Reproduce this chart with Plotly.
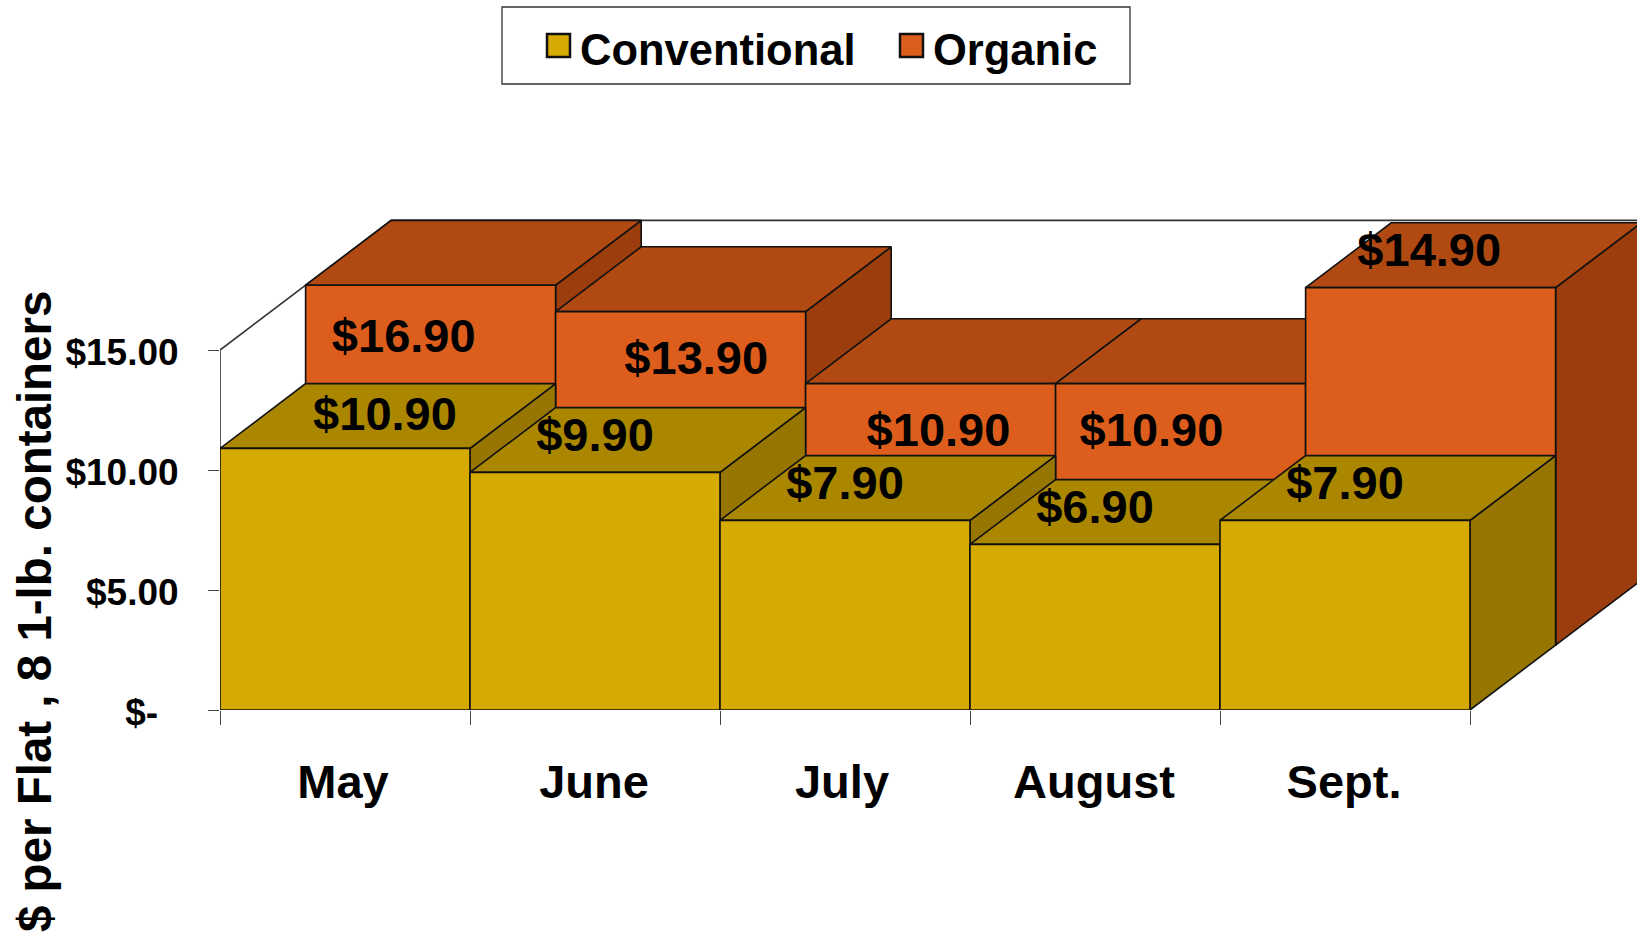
import plotly.graph_objects as go

months = ["May", "June", "July", "August", "Sept."]
conventional = [10.90, 9.90, 7.90, 6.90, 7.90]
organic = [16.90, 13.90, 10.90, 10.90, 14.90]
y_ticks = [0, 5, 10, 15]
y_tick_labels = ["$-\u00a0\u00a0", "$5.00", "$10.00", "$15.00"]

# pixel layout of the page
W, H = 1637, 932
LEFT, BASE = 220, 710
PX_X, PX_Y = 250, 24
X_MAX, Y_MAX = (W - LEFT) / PX_X, BASE / PX_Y

# one step of depth in the fake 3D, in data units
DX, DY = 0.3424, 2.7
AXIS_TOP = y_ticks[-1]

FONT = "Liberation Sans"
COLORS = {
    "conventional": ("#D6AA00", "#AB8700", "#967500"),
    "organic": ("#DD5E1C", "#B04A12", "#9B3D0D"),
}


def paper_x(px):
    return (px - LEFT) / (W - LEFT)


def paper_y(py):
    return (BASE - py) / BASE


def face(fig, xs, ys, color):
    fig.add_trace(go.Scatter(
        x=xs + xs[:1], y=ys + ys[:1], mode="lines", fill="toself", fillcolor=color,
        line=dict(color="#111111", width=1.6), hoverinfo="skip", showlegend=False, cliponaxis=False,
    ))


def add_series(fig, values, offset, colors):
    front, top, side = colors
    ox, oy = DX * offset, DY * offset
    for i, v in enumerate(values):
        h = min(v, AXIS_TOP)  # the axis stops at 15, May organic is cut off
        l, r = i + ox, i + 1 + ox
        face(fig, [r, r + DX, r + DX, r], [oy, oy + DY, h + oy + DY, h + oy], side)
        face(fig, [l, l + DX, r + DX, r], [h + oy, h + oy + DY, h + oy + DY, h + oy], top)
        face(fig, [l, r, r, l], [oy, oy, h + oy, h + oy], front)


fig = go.Figure()

# left and back wall edges
fig.add_trace(go.Scatter(
    x=[0, 0, 2 * DX, X_MAX], y=[0, AXIS_TOP, AXIS_TOP + 2 * DY, AXIS_TOP + 2 * DY], mode="lines",
    line=dict(color="#333333", width=1.6), hoverinfo="skip", showlegend=False, cliponaxis=False,
))

add_series(fig, organic, 1, COLORS["organic"])
add_series(fig, conventional, 0, COLORS["conventional"])

# data labels were moved by hand in the original, so they sit off the bars a bit
conv_label_x = [i + 0.5 + s for i, s in enumerate([0.16, 0, 0, 0, 0])]
conv_label_y = [v + s for v, s in zip(conventional, [1.27, 1.4, 1.4, 1.4, 1.4])]
org_label_x = [i + 0.5 + s for i, s in enumerate([0.235, 0.405, 0.374, 0.226, 0.337])]
org_label_y = [v + s for v, s in zip(organic, [-1.5, 0.58, 0.58, 0.58, 4.1])]
for xs, ys, vals in [(org_label_x, org_label_y, organic), (conv_label_x, conv_label_y, conventional)]:
    fig.add_trace(go.Scatter(
        x=xs, y=ys, mode="text", text=[f"${v:.2f}" for v in vals], textposition="middle center",
        textfont=dict(family=FONT, size=47, color="#000000", weight="bold"),
        hoverinfo="skip", showlegend=False, cliponaxis=False,
    ))

# legend box, the built-in swatches can't get this large
shapes = [dict(
    type="rect", xref="paper", yref="paper", x0=paper_x(502), x1=paper_x(1130), y0=paper_y(84), y1=paper_y(7),
    line=dict(color="#333333", width=1.3), fillcolor="#FFFFFF",
)]
annotations = []
for name, sx, tx, key in [("Conventional", 547, 578, "conventional"), ("Organic", 900, 931, "organic")]:
    shapes.append(dict(
        type="rect", xref="paper", yref="paper", x0=paper_x(sx), x1=paper_x(sx + 23), y0=paper_y(57), y1=paper_y(34),
        line=dict(color="#111111", width=2.5), fillcolor=COLORS[key][0],
    ))
    annotations.append(dict(
        text=name, xref="paper", yref="paper", x=paper_x(tx), y=paper_y(50), xanchor="left", yanchor="middle",
        showarrow=False, font=dict(family=FONT, size=43.5, color="#000000", weight="bold"),
    ))

annotations.append(dict(
    text="$ per Flat , 8 1-lb. containers", xref="paper", yref="paper", x=paper_x(34), y=paper_y(612),
    xanchor="center", yanchor="middle", textangle=-90, showarrow=False,
    font=dict(family=FONT, size=47.5, color="#000000", weight="bold"),
))

fig.update_layout(
    width=W, height=H, margin=dict(l=LEFT, r=0, t=0, b=H - BASE), paper_bgcolor="#FFFFFF", plot_bgcolor="#FFFFFF",
    showlegend=False, shapes=shapes, annotations=annotations,
    xaxis=dict(
        range=[0, X_MAX], showgrid=False, zeroline=False, showline=False,
        tickvals=[i + 0.5 + s for i, s in enumerate([-0.008, -0.004, -0.012, -0.004, -0.004])],
        ticktext=months, ticks="", ticklabelstandoff=40,
        tickfont=dict(family=FONT, size=47, color="#000000", weight="bold"),
        minor=dict(tickvals=list(range(len(months) + 1)), ticks="outside", ticklen=14, tickcolor="#444444", tickwidth=1.3),
    ),
    yaxis=dict(
        range=[0, Y_MAX], showgrid=False, zeroline=False, showline=False,
        tickvals=y_ticks, ticktext=y_tick_labels, ticks="outside", ticklen=11, tickcolor="#444444", tickwidth=1.3,
        ticklabelstandoff=22, ticklabelshift=2, tickfont=dict(family=FONT, size=37, color="#000000", weight="bold"),
    ),
)

# the page's default body margin would push everything 8px in
fig.write_html(
    "out.html",
    config={"displayModeBar": False},
    post_script="document.body.style.margin='0';document.body.style.overflow='hidden';",
)
